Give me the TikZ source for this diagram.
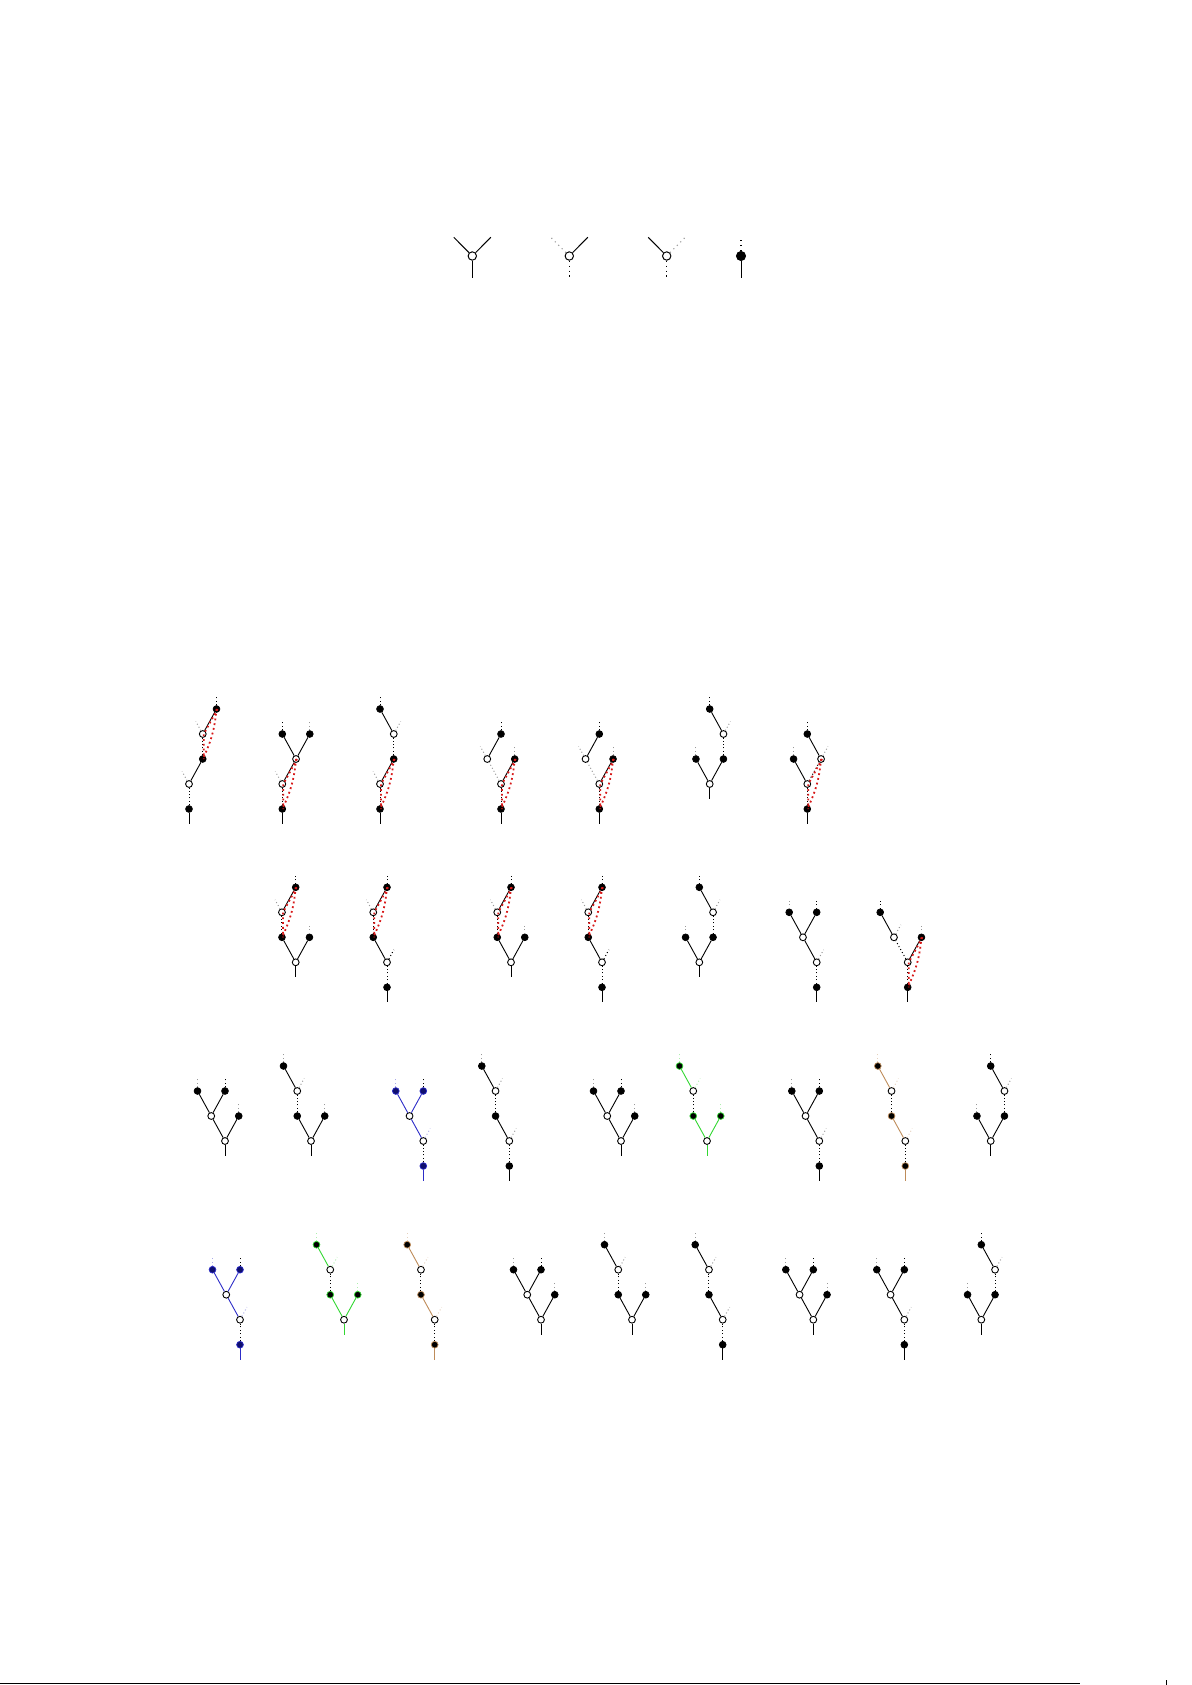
\documentclass[tikz,border=0pt]{standalone}
\usetikzlibrary{calc}
\definecolor{tblue}{RGB}{45,45,200}
\definecolor{tnavy}{RGB}{15,15,110}
\definecolor{tgreen}{RGB}{50,215,50}
\definecolor{tbrown}{RGB}{190,140,90}
\definecolor{lensred}{RGB}{215,25,25}
\def\tc{black}\def\tf{black}
\tikzset{
  bnode/.style={circle,draw=\tc,fill=\tf,line width=0.35pt,minimum size=3.4pt,inner sep=0pt},
  wnode/.style={circle,draw=black,fill=white,line width=0.45pt,minimum size=3.4pt,inner sep=0pt},
  sol/.style={draw=\tc,line width=0.45pt},
  bdot/.style={draw=black,line width=0.5pt,dash pattern=on 0.5pt off 1.2pt},
  gdot/.style={draw=\tc!40!white,line width=0.5pt,dash pattern=on 0.5pt off 1.2pt},
  lens/.style={draw=lensred,line width=0.9pt,dash pattern=on 0.9pt off 1.5pt},
  lblack/.style={circle,draw=black,fill=black,line width=0.4pt,minimum size=4.6pt,inner sep=0pt},
  lwhite/.style={circle,draw=black,fill=white,line width=0.5pt,minimum size=4.2pt,inner sep=0pt},
  lsol/.style={draw=black,line width=0.5pt},
  lbdot/.style={draw=black,line width=0.55pt,dash pattern=on 0.55pt off 1.9pt},
  lgdot/.style={draw=black!40!white,line width=0.55pt,dash pattern=on 0.55pt off 1.9pt},
}
% lattice helpers (unit: 13.75 px across, 25 px up)
\newcommand\Bn[3]{\node[bnode] (#1) at ({13.75*(#2)},{-25*(#3)}) {};}
\newcommand\Wn[3]{\node[wnode] (#1) at ({13.75*(#2)},{-25*(#3)}) {};}
\newcommand\armL[2]{\draw[#2] (#1) -- ++(-6.9,-12.5);}
\newcommand\armR[2]{\draw[#2] (#1) -- ++(6.9,-12.5);}
\newcommand\armU[2]{\draw[#2] (#1) -- ++(0,-12.5);}
\newcommand\stem[1]{\draw[sol] (#1) -- ++(0,15);}
\newcommand\lens[3]{\draw[lens,transform canvas={xshift=0.5pt}] (#1.center) -- (#2.center) -- (#3.center);
  \draw[lens] (#1.center) to[bend left=10] (#3.center);}
% templates: #1 prefix, #2 x, #3 y
\newcommand\treePone[3]{\begin{scope}[shift={(#2,#3)}]
  \Bn{#1b0}{0}{0}\Wn{#1w0}{0}{1}\Bn{#1b1}{1}{2}\Wn{#1w1}{1}{3}\Bn{#1b2}{2}{4}
  \stem{#1b0}\draw[bdot] (#1b0)--(#1w0);\armL{#1w0}{gdot}\draw[sol] (#1w0)--(#1b1);
  \draw[bdot] (#1b1)--(#1w1);\armL{#1w1}{gdot}\draw[sol] (#1w1)--(#1b2);\armU{#1b2}{bdot}
  \lens{#1b2}{#1w1}{#1b1}\end{scope}}
\newcommand\treePtwo[3]{\begin{scope}[shift={(#2,#3)}]
  \Bn{#1b0}{0}{0}\Wn{#1w0}{0}{1}\Wn{#1w1}{1}{2}\Bn{#1b1}{0}{3}\Bn{#1b2}{2}{3}
  \stem{#1b0}\draw[bdot] (#1b0)--(#1w0);\armL{#1w0}{gdot}\draw[sol] (#1w0)--(#1w1);
  \draw[sol] (#1w1)--(#1b1);\draw[sol] (#1w1)--(#1b2);\armU{#1b1}{bdot}\armU{#1b2}{gdot}
  \lens{#1w1}{#1w0}{#1b0}\end{scope}}
\newcommand\treePthree[3]{\begin{scope}[shift={(#2,#3)}]
  \Bn{#1b0}{0}{0}\Wn{#1w0}{0}{1}\Bn{#1b1}{1}{2}\Wn{#1w1}{1}{3}\Bn{#1b2}{0}{4}
  \stem{#1b0}\draw[bdot] (#1b0)--(#1w0);\armL{#1w0}{gdot}\draw[sol] (#1w0)--(#1b1);
  \draw[bdot] (#1b1)--(#1w1);\draw[sol] (#1w1)--(#1b2);\armR{#1w1}{gdot}\armU{#1b2}{bdot}
  \lens{#1b1}{#1w0}{#1b0}\end{scope}}
\newcommand\treePfour[3]{\begin{scope}[shift={(#2,#3)}]
  \Bn{#1b0}{0}{0}\Wn{#1w0}{0}{1}\Wn{#1w1}{-1}{2}\Bn{#1b1}{1}{2}\Bn{#1b2}{0}{3}
  \stem{#1b0}\draw[bdot] (#1b0)--(#1w0);\draw[gdot] (#1w0)--(#1w1);\draw[sol] (#1w0)--(#1b1);
  \armL{#1w1}{gdot}\draw[sol] (#1w1)--(#1b2);\armU{#1b2}{bdot}\armU{#1b1}{gdot}
  \lens{#1b1}{#1w0}{#1b0}\end{scope}}
\newcommand\treePseven[3]{\begin{scope}[shift={(#2,#3)}]
  \Bn{#1b0}{0}{0}\Wn{#1w0}{0}{1}\Bn{#1b1}{-1}{2}\Wn{#1w1}{1}{2}\Bn{#1b2}{0}{3}
  \stem{#1b0}\draw[bdot] (#1b0)--(#1w0);\draw[sol] (#1w0)--(#1b1);\draw[bdot] (#1w0)--(#1w1);
  \draw[sol] (#1w1)--(#1b2);\armR{#1w1}{gdot}\armU{#1b1}{gdot}\armU{#1b2}{bdot}
  \lens{#1w1}{#1w0}{#1b0}\end{scope}}
\newcommand\treeQsix[3]{\begin{scope}[shift={(#2,#3)}]
  \Wn{#1w0}{0}{0}\Bn{#1b1}{-1}{1}\Bn{#1b2}{1}{1}\Wn{#1w1}{1}{2}\Bn{#1b3}{0}{3}
  \stem{#1w0}\draw[sol] (#1w0)--(#1b1);\draw[sol] (#1w0)--(#1b2);\armU{#1b1}{gdot}
  \draw[bdot] (#1b2)--(#1w1);\draw[sol] (#1w1)--(#1b3);\armR{#1w1}{gdot}\armU{#1b3}{bdot}
  \end{scope}}
\newcommand\treeTA[3]{\begin{scope}[shift={(#2,#3)}]
  \Wn{#1w0}{0}{0}\Bn{#1b1}{-1}{1}\Bn{#1b2}{1}{1}\Wn{#1w1}{-1}{2}\Bn{#1b3}{0}{3}
  \stem{#1w0}\draw[sol] (#1w0)--(#1b1);\draw[sol] (#1w0)--(#1b2);\armU{#1b2}{gdot}
  \draw[bdot] (#1b1)--(#1w1);\armL{#1w1}{gdot}\draw[sol] (#1w1)--(#1b3);\armU{#1b3}{bdot}
  \lens{#1b3}{#1w1}{#1b1}\end{scope}}
\newcommand\treeTB[3]{\begin{scope}[shift={(#2,#3)}]
  \Bn{#1b0}{0}{0}\Wn{#1w0}{0}{1}\Bn{#1b1}{-1}{2}\Wn{#1w1}{-1}{3}\Bn{#1b2}{0}{4}
  \stem{#1b0}\draw[bdot] (#1b0)--(#1w0);\draw[sol] (#1w0)--(#1b1);\armR{#1w0}{bdot}
  \draw[bdot] (#1b1)--(#1w1);\armL{#1w1}{gdot}\draw[sol] (#1w1)--(#1b2);\armU{#1b2}{bdot}
  \lens{#1b2}{#1w1}{#1b1}\end{scope}}
\newcommand\treeTG[3]{\begin{scope}[shift={(#2,#3)}]
  \Bn{#1b0}{0}{0}\Wn{#1w0}{0}{1}\Wn{#1w1}{-1}{2}\Bn{#1b1}{1}{2}\Bn{#1b2}{-2}{3}
  \stem{#1b0}\draw[bdot] (#1b0)--(#1w0);\draw[bdot] (#1w0)--(#1w1);\draw[sol] (#1w0)--(#1b1);
  \draw[sol] (#1w1)--(#1b2);\armR{#1w1}{gdot}\armU{#1b1}{gdot}\armU{#1b2}{bdot}
  \lens{#1b1}{#1w0}{#1b0}\end{scope}}
\newcommand\treeTH[3]{\begin{scope}[shift={(#2,#3)}]
  \Wn{#1w0}{0}{0}\Wn{#1w1}{-1}{1}\Bn{#1b3}{1}{1}\Bn{#1b1}{-2}{2}\Bn{#1b2}{0}{2}
  \stem{#1w0}\draw[sol] (#1w0)--(#1w1);\draw[sol] (#1w0)--(#1b3);\draw[sol] (#1w1)--(#1b1);
  \draw[sol] (#1w1)--(#1b2);\armU{#1b1}{gdot}\armU{#1b2}{bdot}\armU{#1b3}{gdot}
  \end{scope}}
\newcommand\treeTI[3]{\begin{scope}[shift={(#2,#3)}]
  \Wn{#1w0}{0}{0}\Bn{#1b1}{-1}{1}\Bn{#1b2}{1}{1}\Wn{#1w1}{-1}{2}\Bn{#1b3}{-2}{3}
  \stem{#1w0}\draw[sol] (#1w0)--(#1b1);\draw[sol] (#1w0)--(#1b2);\armU{#1b2}{gdot}
  \draw[bdot] (#1b1)--(#1w1);\draw[sol] (#1w1)--(#1b3);\armR{#1w1}{gdot}\armU{#1b3}{gdot}
  \end{scope}}
\newcommand\treeTJ[3]{\begin{scope}[shift={(#2,#3)}]
  \Bn{#1b0}{0}{0}\Wn{#1w0}{0}{1}\Wn{#1w1}{-1}{2}\Bn{#1b1}{-2}{3}\Bn{#1b2}{0}{3}
  \stem{#1b0}\draw[bdot] (#1b0)--(#1w0);\draw[sol] (#1w0)--(#1w1);\armR{#1w0}{gdot}
  \draw[sol] (#1w1)--(#1b1);\draw[sol] (#1w1)--(#1b2);\armU{#1b1}{gdot}\armU{#1b2}{bdot}
  \end{scope}}
\newcommand\treeTK[3]{\begin{scope}[shift={(#2,#3)}]
  \Bn{#1b0}{0}{0}\Wn{#1w0}{0}{1}\Bn{#1b1}{-1}{2}\Wn{#1w1}{-1}{3}\Bn{#1b2}{-2}{4}
  \stem{#1b0}\draw[bdot] (#1b0)--(#1w0);\draw[sol] (#1w0)--(#1b1);\armR{#1w0}{gdot}
  \draw[bdot] (#1b1)--(#1w1);\draw[sol] (#1w1)--(#1b2);\armR{#1w1}{gdot}\armU{#1b2}{gdot}
  \end{scope}}
\begin{document}
\begin{tikzpicture}[x=0.5pt,y=-0.5pt]
\useasboundingbox (0,0) rectangle (1192,1685);
% legend
\node[lwhite] (g1) at (472.3,256) {};
\draw[lsol] (g1) -- ++(-18.5,-18.7); \draw[lsol] (g1) -- ++(18.5,-18.7); \draw[lsol] (g1) -- ++(0,21.5);
\node[lwhite] (g2) at (569.3,256) {};
\draw[lgdot] (g2) -- ++(-18.5,-18.7); \draw[lsol] (g2) -- ++(18.5,-18.7); \draw[lbdot] (g2) -- ++(0,21.5);
\node[lwhite] (g3) at (666.7,256) {};
\draw[lsol] (g3) -- ++(-18.5,-18.7); \draw[lgdot] (g3) -- ++(18.5,-18.7); \draw[lbdot] (g3) -- ++(0,21.5);
\node[lblack] (g4) at (741,256) {};
\draw[lbdot] (g4) -- ++(0,-19); \draw[lsol] (g4) -- ++(0,21.5);
% row 1
\treePone{a1}{189}{809}
\treePtwo{a2}{282.3}{809}
\treePthree{a3}{380}{809}
\treePfour{a4}{501}{809}
\treePfour{a5}{599.3}{809}
\treeQsix{a6}{709.7}{784}
\treePseven{a7}{807.3}{809}
% row 2
\treeTA{b1}{295.7}{962.3}
\treeTB{b2}{387}{987.3}
\treeTA{b3}{511}{962.3}
\treeTB{b4}{602}{987.3}
\treeQsix{b5}{699.3}{962.3}
\treeTJ{b6}{816.7}{987.3}
\treeTG{b7}{907.7}{987.3}
% row 3
\treeTH{c1}{225}{1141}
\treeTI{c2}{311}{1141}
{\def\tc{tblue}\def\tf{tnavy}\treeTJ{c3}{423.3}{1166}}
\treeTK{c4}{509.3}{1166}
\treeTH{c5}{621}{1141}
{\def\tc{tgreen}\def\tf{black}\treeTI{c6}{707}{1141}}
\treeTJ{c7}{819.3}{1166}
{\def\tc{tbrown}\def\tf{black}\treeTK{c8}{905.3}{1166}}
\treeQsix{c9}{990.7}{1141}
% row 4
{\def\tc{tblue}\def\tf{tnavy}\treeTJ{d1}{240}{1344.7}}
{\def\tc{tgreen}\def\tf{black}\treeTI{d2}{344}{1319.7}}
{\def\tc{tbrown}\def\tf{black}\treeTK{d3}{434.7}{1344.7}}
\treeTH{d4}{541}{1319.7}
\treeTI{d5}{632}{1319.7}
\treeTK{d6}{722.7}{1344.7}
\treeTH{d7}{813.3}{1319.7}
\treeTJ{d8}{904.3}{1344.7}
\treeQsix{d9}{981.3}{1319.7}
% footer rule
\coordinate (f0) at (0,1683.5);
\coordinate (f1) at (1080,1683.5);
\draw[line width=0.5pt] (f0) -- (f1);
\coordinate (t0) at (1166,1680);
\coordinate (t1) at (1166,1685);
\draw[line width=0.4pt] (t0) -- (t1);
\end{tikzpicture}
\end{document}
